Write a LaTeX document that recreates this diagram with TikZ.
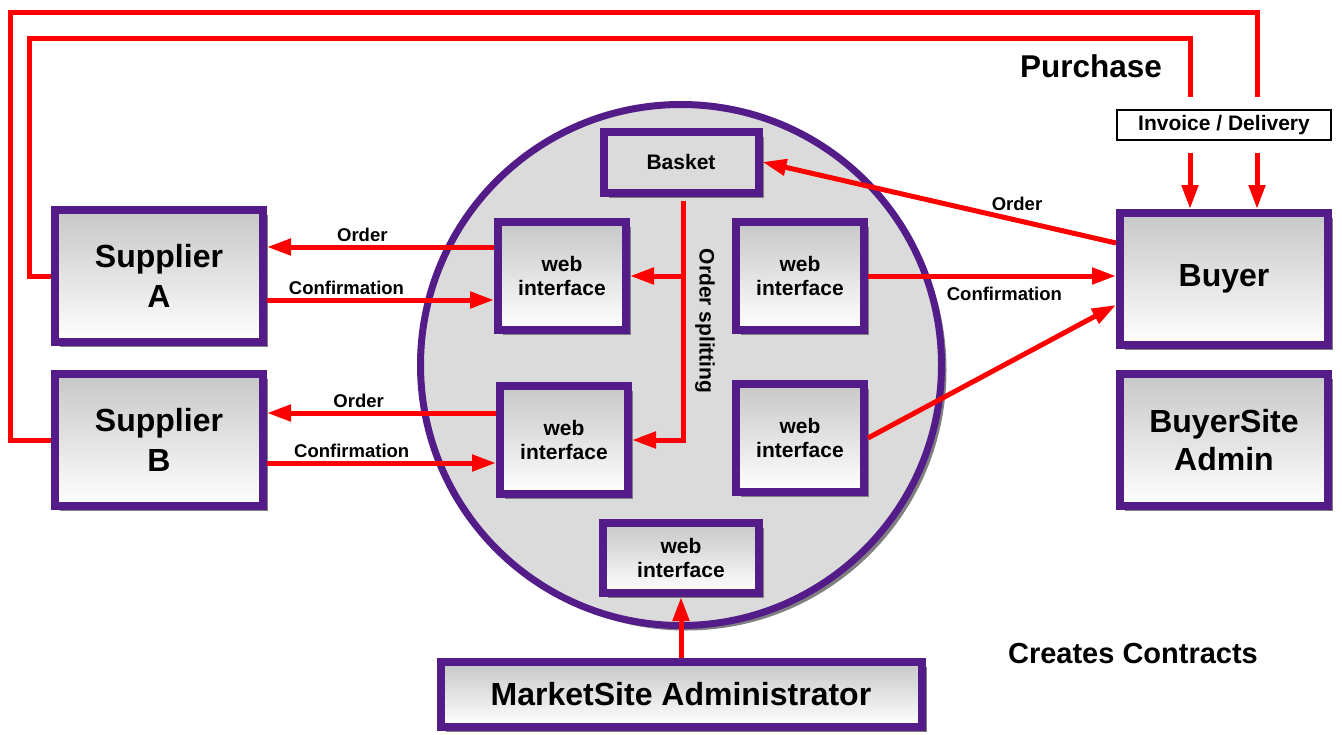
\documentclass[tikz,border=0pt]{standalone}
\usepackage{fontspec}
\setmainfont{Liberation Sans}
\usetikzlibrary{arrows.meta, positioning, shadows}
\definecolor{frame}{RGB}{84,28,136}

\begin{document}
\begin{tikzpicture}[x=1pt, y=-1pt, >={Triangle[length=24pt, width=16pt]},
            base/.style={rectangle, draw=frame, line width=8pt, align=center, inner sep=0pt,
                drop shadow={shadow xshift=5pt, shadow yshift=-5pt, fill=black!50, opacity=1}},
            actor/.style={base, top color=black!22, bottom color=white,
                minimum width=208pt, minimum height=132pt, font=\fontsize{32}{40}\selectfont\bfseries},
            web/.style={base, top color=black!22, bottom color=white,
                minimum width=128pt, minimum height=108pt, font=\fontsize{21}{24}\selectfont\bfseries},
            flow/.style={->, draw=red, line width=5pt},
            wire/.style={draw=red, line width=5pt, shorten >=12pt},
            lbl/.style={font=\fontsize{18.5}{20}\selectfont\bfseries, inner sep=3pt}]

            \useasboundingbox (0,0) rectangle (1342,734);

            % Market place
            \node[circle, draw=frame, line width=7pt, fill=black!14, minimum size=521pt,
                drop shadow={shadow xshift=5pt, shadow yshift=-5pt, fill=black!50, opacity=1}] (market) at (681,365) {};

            % Nodes
            \node[actor] (supA) at (159,276) {Supplier\\A};
            \node[actor] (supB) at (159,440) {Supplier\\B};
            \node[actor] (buyer) at (1224,279) {\raisebox{-3pt}{Buyer}};
            \node[actor, font=\fontsize{32}{38}\selectfont\bfseries] (bsadmin) at (1224,440) {BuyerSite\\Admin};
            \node[actor, minimum width=481pt, minimum height=65pt] (msadmin) at (681,694) {MarketSite Administrator};

            \node[base, fill=black!14, minimum width=155pt, minimum height=61pt,
                font=\fontsize{21}{24}\selectfont\bfseries] (basket) at (681,162) {Basket};
            \node[web] (webUL) at (562,276) {web\\interface};
            \node[web] (webUR) at (800,276) {web\\interface};
            \node[web] (webLL) at (564,440) {web\\interface};
            \node[web] (webLR) at (800,438) {web\\interface};
            \node[web, minimum width=156pt, minimum height=70pt] (webM) at (681,558) {web\\interface};

            \node[draw, line width=2pt, fill=white, minimum width=214pt, minimum height=30pt, inner sep=0pt,
                font=\fontsize{21}{22}\selectfont\bfseries] (invoice) at (1224,125) {\raisebox{-2pt}{Invoice / Delivery}};

            \node[font=\fontsize{31.5}{34}\selectfont\bfseries] (purchase) at (1091,66) {Purchase};
            \node[font=\fontsize{29}{32}\selectfont\bfseries] (contracts) at (1133,654) {Creates Contracts};

            % Edges
            \draw[flow] ([yshift=29pt]webUL.west) -- ([yshift=29pt]supA.east) node[lbl, above, pos=0.58] {Order};
            \draw[flow] ([yshift=-24pt]supA.east) -- ([yshift=-24pt]webUL.west) node[lbl, above, pos=0.35] {Confirmation};
            \draw[flow] ([yshift=27pt]webLL.west) -- ([yshift=27pt]supB.east) node[lbl, above, pos=0.6] {Order};
            \draw[flow] ([yshift=-23pt]supB.east) -- ([yshift=-23pt]webLL.west) node[lbl, above, pos=0.37] {Confirmation};

            \coordinate (split) at ([xshift=2pt, yshift=-4pt]basket.south);
            \draw[flow] (split) |- (webLL.east);
            \draw[flow] (split |- webUL.east) -- (webUL.east);
            \node[lbl, rotate=-90, font=\fontsize{21}{24}\selectfont\bfseries] (splitting) at (705,321) {Order splitting};

            \draw[flow] ([yshift=36pt]buyer.west) -- (basket.east) node[lbl, above, pos=0.28, yshift=4pt] {Order};
            \draw[flow] (webUR.east) -- (webUR.east -| buyer.west) node[lbl, below, pos=0.55, yshift=-6pt] {Confirmation};
            \draw[flow] (webLR.east) -- ([yshift=-26pt]buyer.west);
            \draw[flow] (msadmin.north) -- (webM.south);

            \draw[wire] (supA.west) -| (29,38) -| ([xshift=-34pt]invoice.north);
            \draw[wire] (supB.west) -| (10,12) -| ([xshift=33pt]invoice.north);
            \draw[flow, shorten <=12pt] ([xshift=-34pt]invoice.south) -- ([xshift=-34pt]buyer.north);
            \draw[flow, shorten <=12pt] ([xshift=33pt]invoice.south) -- ([xshift=33pt]buyer.north);
\end{tikzpicture}
\end{document}
